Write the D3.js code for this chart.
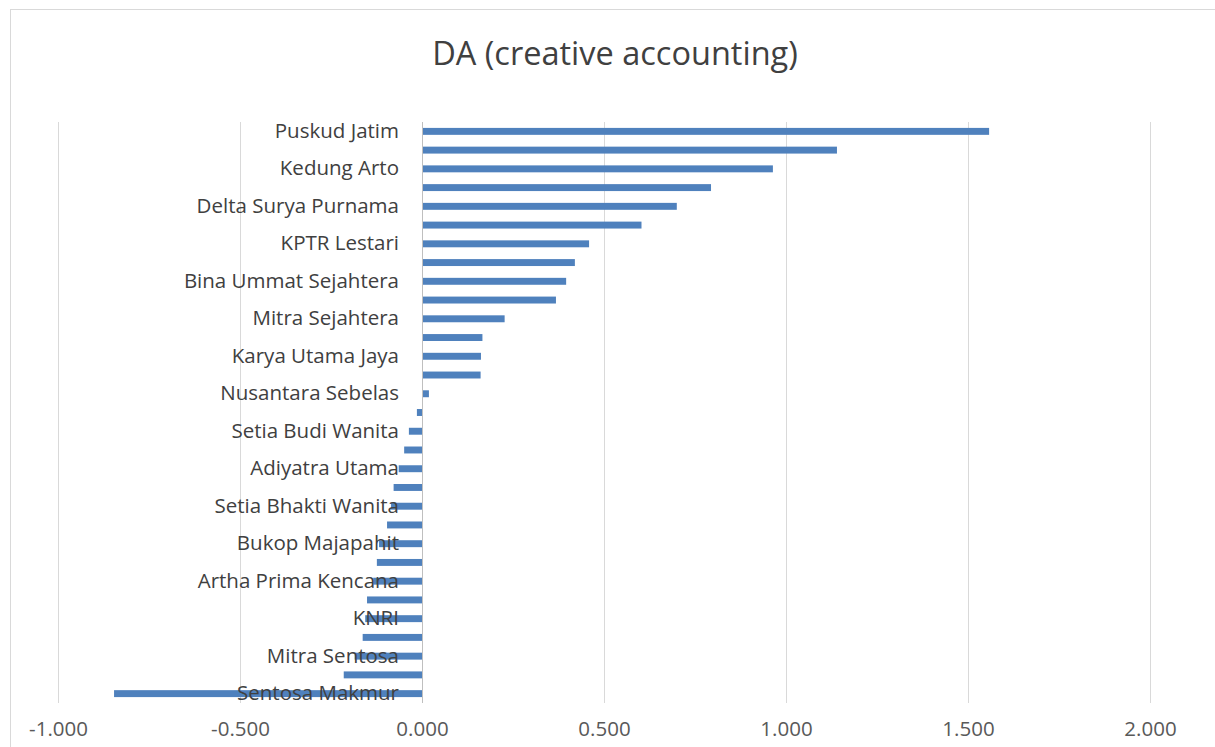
<!DOCTYPE html>
<html>
<head>
<meta charset="utf-8">
<script src="https://cdn.jsdelivr.net/npm/d3@7"></script>
<style>
  body { margin: 0; background: #fff; }
  svg { font-family: 'Open Sans', Lato, sans-serif; }
  .tick text { fill: #595959; }
</style>
</head>
<body>
<div id="chart"></div>
<script>
// one entry per bar, top to bottom; the chart only prints every other name
const categories = [
  'Puskud Jatim', '', 'Kedung Arto', '', 'Delta Surya Purnama', '',
  'KPTR Lestari', '', 'Bina Ummat Sejahtera', '', 'Mitra Sejahtera', '',
  'Karya Utama Jaya', '', 'Nusantara Sebelas', '', 'Setia Budi Wanita', '',
  'Adiyatra Utama', '', 'Setia Bhakti Wanita', '', 'Bukop Majapahit', '',
  'Artha Prima Kencana', '', 'KNRI', '', 'Mitra Sentosa', '', 'Sentosa Makmur'
]
const values = [
  1.558, 1.140, 0.964, 0.794, 0.700, 0.603, 0.459, 0.420, 0.396, 0.368,
  0.227, 0.166, 0.162, 0.161, 0.019, -0.014, -0.036, -0.049, -0.064, -0.078,
  -0.085, -0.096, -0.118, -0.124, -0.134, -0.151, -0.156, -0.163, -0.185, -0.215,
  -0.846
]
const xTicks = [-1, -0.5, 0, 0.5, 1, 1.5, 2]
const title = 'DA (creative accounting)'

const width = 1215
const height = 747

const svg = d3.select('#chart')
  .append('svg')
  .attr('width', width)
  .attr('height', height)

// chart frame
svg.append('rect')
  .attr('x', 10.5)
  .attr('y', 9.5)
  .attr('width', width)
  .attr('height', height)
  .attr('fill', 'none')
  .attr('stroke', '#d9d9d9')

svg.append('text')
  .attr('x', 615)
  .attr('y', 65)
  .attr('text-anchor', 'middle')
  .attr('font-size', 32.5)
  .attr('fill', '#404040')
  .text(title)

const x = d3.scaleLinear()
  .domain([-1, 2])
  .range([58, 1150])

const y = d3.scaleBand()
  .domain(d3.range(categories.length))
  .range([122, 703])
  .paddingInner(0.63)
  .paddingOuter(0.315)

// gridlines
svg.append('g')
  .selectAll('line')
  .data(xTicks)
  .enter()
  .append('line')
  .attr('x1', d => Math.round(x(d)) + 0.5)
  .attr('x2', d => Math.round(x(d)) + 0.5)
  .attr('y1', 122)
  .attr('y2', 703)
  .attr('stroke', '#d9d9d9')

svg.append('g')
  .selectAll('rect')
  .data(values)
  .enter()
  .append('rect')
  .attr('x', d => x(Math.min(0, d)))
  .attr('y', (d, i) => y(i))
  .attr('width', d => Math.abs(x(d) - x(0)))
  .attr('height', y.bandwidth())
  .attr('fill', '#4f81bd')

// zero axis line
svg.append('line')
  .attr('x1', Math.round(x(0)) + 0.5)
  .attr('x2', Math.round(x(0)) + 0.5)
  .attr('y1', 122)
  .attr('y2', 703)
  .attr('stroke', '#bfbfbf')

// category labels, drawn over the bars like the original
const yAxis = d3.axisLeft(y)
  .tickValues(d3.range(0, categories.length, 2))
  .tickFormat(i => categories[i])
  .tickSize(0)
  .tickPadding(23)

svg.append('g')
  .attr('transform', `translate(${x(0)},0)`)
  .call(yAxis)
  .call(g => g.select('.domain').remove())
  .selectAll('text')
  .attr('font-size', 20.5)
  .attr('font-family', "'Open Sans', Lato, sans-serif")
  .style('fill', '#404040')

const fmt = d3.format('.3f')
const xAxis = d3.axisBottom(x)
  .tickValues(xTicks)
  .tickFormat(d => fmt(d).replace('\u2212', '-'))
  .tickSize(0)
  .tickPadding(18)

svg.append('g')
  .attr('transform', 'translate(0,703)')
  .call(xAxis)
  .call(g => g.select('.domain').remove())
  .selectAll('text')
  .attr('font-size', 20.5)
  .attr('font-family', "'Open Sans', Lato, sans-serif")
</script>
</body>
</html>
